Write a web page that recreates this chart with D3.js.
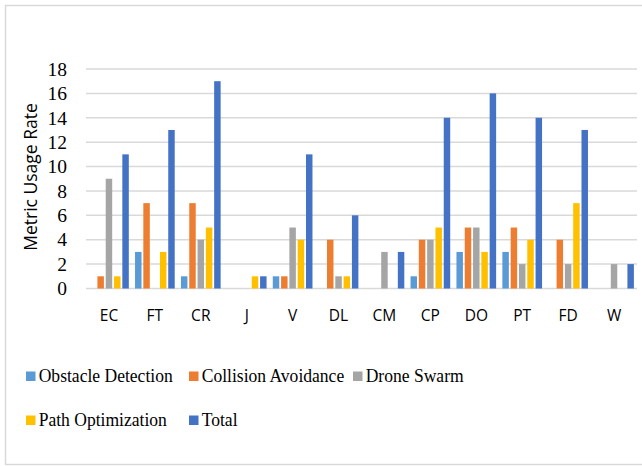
<!DOCTYPE html>
<html><head><meta charset="utf-8">
<script src="https://cdn.jsdelivr.net/npm/d3@7"></script>
<style>body{margin:0;background:#fff}svg{display:block}</style>
</head><body><svg id="c" width="642" height="466"></svg>
<script>
const categories = ["EC","FT","CR","J","V","DL","CM","CP","DO","PT","FD","W"];
const seriesNames = ["Obstacle Detection","Collision Avoidance","Drone Swarm","Path Optimization","Total"];
const obstacleDetection  = [0,3,1,0,1,0,0,1,3,3,0,0];
const collisionAvoidance = [1,7,7,0,1,4,0,4,5,5,4,0];
const droneSwarm         = [9,0,4,0,5,1,3,4,5,2,2,2];
const pathOptimization   = [1,3,5,1,4,1,0,5,3,4,7,0];
const total              = [11,13,17,1,11,6,3,14,16,14,13,2];
const yTicks = [0,2,4,6,8,10,12,14,16,18];
const colors = ["#5B9BD5","#ED7D31","#A5A5A5","#FFC000","#4472C4"];
const seriesValues = [obstacleDetection, collisionAvoidance, droneSwarm, pathOptimization, total];

const svg = d3.select("#c");
// chart border
svg.append("rect").attr("x",5.5).attr("y",5.5).attr("width",645).attr("height",459)
  .attr("fill","#fff").attr("stroke","#d9d9d9").attr("stroke-width",1.5);

const pLeft = 86, pRight = 637, pTop = 69, pBottom = 288.5;
const x0 = d3.scaleBand().domain(categories).range([pLeft, pRight]).padding(0);
const x1 = d3.scaleBand().domain(seriesNames).range([0, x0.bandwidth()]).paddingInner(0.22).paddingOuter(0.375);
const y = d3.scaleLinear().domain([0,18]).range([pBottom, pTop]);

// gridlines
svg.append("g").selectAll("line").data(yTicks).join("line")
  .attr("x1", pLeft).attr("x2", pRight)
  .attr("y1", d => y(d)).attr("y2", d => y(d))
  .attr("stroke","#d9d9d9").attr("stroke-width",1.5);

// y tick labels via axis
const yAxis = svg.append("g").attr("transform", `translate(${pLeft},0)`)
  .call(d3.axisLeft(y).tickValues(yTicks).tickSize(0).tickPadding(19));
yAxis.select(".domain").remove();
yAxis.selectAll("text").attr("font-family","'Liberation Serif', serif").attr("font-size","19.5px").attr("fill","#000");

// x axis labels
const xAxis = svg.append("g").attr("transform", `translate(0,${pBottom})`)
  .call(d3.axisBottom(x0).tickSize(0).tickPadding(21));
xAxis.select(".domain").remove();
xAxis.selectAll("text").attr("font-family","'Open Sans', sans-serif").attr("font-size","15.5px").attr("fill","#000");

// bars
const rows = categories.map((c,i) => ({cat:c, vals: seriesNames.map((s,j)=>({s, v: seriesValues[j][i], color: colors[j]}))}));
svg.append("g").selectAll("g").data(rows).join("g")
  .attr("transform", d => `translate(${x0(d.cat)},0)`)
  .selectAll("rect").data(d => d.vals.filter(e => e.v > 0)).join("rect")
  .attr("x", d => x1(d.s)).attr("width", x1.bandwidth())
  .attr("y", d => y(d.v)).attr("height", d => y(0) - y(d.v))
  .attr("fill", d => d.color);

// y title
svg.append("text").attr("transform","translate(37,177) rotate(-90)")
  .attr("text-anchor","middle").attr("font-family","'Open Sans', sans-serif").attr("font-size","17.5px")
  .attr("fill","#000").text("Metric Usage Rate");

// legend
const legendPos = [[26,376],[189,376],[353,376],[26,420],[189,420]];
const lg = svg.append("g").selectAll("g").data(seriesNames).join("g")
  .attr("transform",(d,i)=>`translate(${legendPos[i][0]},${legendPos[i][1]})`);
lg.append("rect").attr("x",0).attr("y",-4.5).attr("width",9.5).attr("height",9.5).attr("fill",(d,i)=>colors[i]);
lg.append("text").attr("transform","translate(12.7,6) scale(0.9,1)")
  .attr("font-family","'Liberation Serif', serif").attr("font-size","19.5px").attr("fill","#000").text(d=>d);
</script></body></html>
